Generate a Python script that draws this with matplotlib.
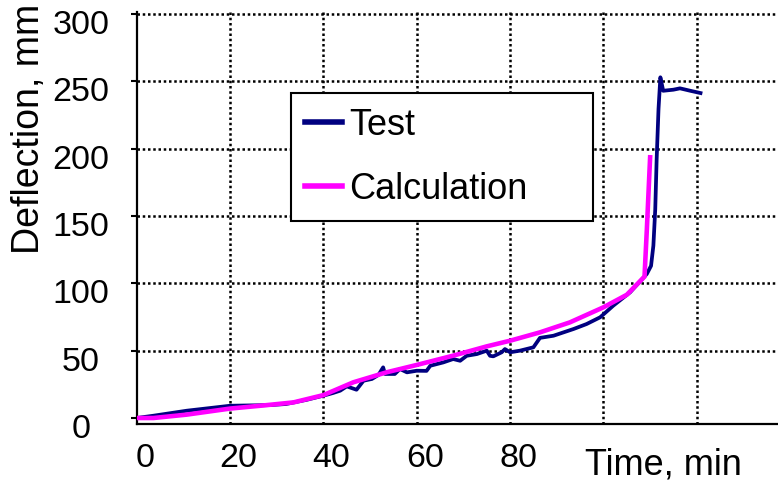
import matplotlib
matplotlib.use("Agg")
import matplotlib.pyplot as plt
import matplotlib.transforms as mtransforms

plt.rcParams['font.family'] = ['Liberation Sans', 'DejaVu Sans']

# Test curve (time in min, deflection in mm)
test_time = [0, 3.6, 10.7, 20, 28.6, 32, 36.4, 40, 42, 43.6, 45, 47.1, 48.6, 50.4, 51.8,
             52.8, 53.2, 55.3, 56.4, 57.9, 60, 62.1, 62.9, 65.7, 67.8, 69.3, 70.7,
             72.9, 75, 75.7, 76.4, 78.2, 78.9, 80, 82.1, 85, 86.4, 89.3, 93.6, 96.4,
             99.3, 102.1, 105.7, 109.3, 110.2, 110.7, 111.1, 111.4, 111.8, 112.2,
             112.8, 115, 116.4, 118.6, 120.8]
test_defl = [0, 1.7, 5.4, 9.1, 9.6, 10.4, 13.5, 16.6, 18.5, 20.3, 23.5, 21, 27.7, 29, 32,
             37.6, 32.7, 32.7, 36.4, 33.9, 35.1, 35, 38.8, 41.3, 43.8, 42.5, 46.2,
             47.5, 50, 46.2, 45.8, 48.8, 51.2, 48.8, 50, 52.5, 59.5, 61.1, 66.1, 69.8,
             74.8, 83.4, 93.3, 107, 113, 128, 155, 192, 229.5, 253,
             243, 243.8, 244.8, 243, 241.3]

# Calculation curve
calc_time = [0, 3.6, 10.7, 20, 27.1, 33.6, 40, 46.4, 53.6, 60, 67.8, 75, 80, 86.4,
             92.8, 100, 105, 108.8, 109.3, 110]
calc_defl = [0, 0, 2.5, 7, 9.3, 11.6, 17, 26.5, 34, 39.4, 46.3, 53.2, 57.4, 63.6,
             71, 82.2, 91.5, 105, 140, 193.6]

x_ticks = [0, 20, 40, 60, 80]
x_grid = [20, 40, 60, 80, 100, 120]
y_ticks = [0, 50, 100, 150, 200, 250, 300]

fig = plt.figure(figsize=(7.78, 4.81), dpi=100)
ax = fig.add_axes([0.1757, 0.1164, 0.8243, 0.8566])

ax.plot(test_time, test_defl, color='#000080', lw=2.7, label='Test', zorder=3)
ax.plot(calc_time, calc_defl, color='#FF00FF', lw=3.3, label='Calculation', zorder=4)

ax.set_xlim(0, 137.4)
ax.set_ylim(-4.46, 301.5)

# dotted grid
for g in x_grid:
    ax.axvline(g, color='black', lw=1.8, ls=(0, (1, 1.1)), zorder=1)
for g in y_ticks[1:]:
    ax.axhline(g, color='black', lw=1.8, ls=(0, (1, 1.1)), zorder=1)

ax.set_xticks(x_ticks)
ax.set_yticks(y_ticks)
ax.tick_params(axis='x', length=0, pad=13, labelsize=24.5)
ax.tick_params(axis='y', direction='out', length=4, width=1.5, pad=36, labelsize=24.5)
for lab in ax.get_yticklabels():
    lab.set_horizontalalignment('center')
    lab.set_transform(lab.get_transform() + mtransforms.ScaledTranslation(0, -0.07, fig.dpi_scale_trans))
for lab in ax.get_xticklabels():
    lab.set_transform(lab.get_transform() + mtransforms.ScaledTranslation(0.08, 0, fig.dpi_scale_trans))

for side in ['top', 'right']:
    ax.spines[side].set_visible(False)
for side in ['left', 'bottom']:
    ax.spines[side].set_linewidth(1.6)

ax.text((585 - 136.7) / (778 - 136.7), (425 - 474) / 412.0, 'Time, min',
        transform=ax.transAxes, ha='left', va='baseline', fontsize=26)
fig.text(29 / 778, 1 - 129 / 481, 'Deflection, mm', rotation=90,
         ha='center', va='center', fontsize=27)

leg = ax.legend(loc='upper left', bbox_to_anchor=(291 / 778, 1 - 217 / 481, 302 / 778, 123 / 481),
                bbox_transform=fig.transFigure, mode='expand', fontsize=26,
                frameon=True, fancybox=False, framealpha=1, edgecolor='black',
                borderpad=0.4, labelspacing=0.8, handlelength=1.0, handletextpad=0.2,
                borderaxespad=0)
leg.get_frame().set_linewidth(1.5)
for line in leg.get_lines():
    line.set_linewidth(4)

fig.savefig('out.png', dpi=100)
